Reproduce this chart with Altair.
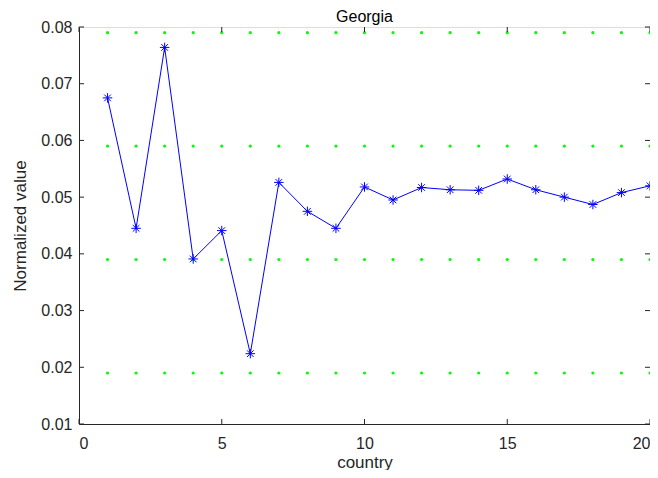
import altair as alt
import pandas as pd

# Data
countries = list(range(1, 21))
values = [0.0675, 0.0445, 0.0764, 0.0391, 0.0441, 0.0224, 0.0526, 0.0475, 0.0445, 0.0518,
          0.0495, 0.0517, 0.0513, 0.0512, 0.0532, 0.0513, 0.0500, 0.0487, 0.0508, 0.0520]
ref_levels = [0.079, 0.059, 0.039, 0.019]
x_ticks = [0, 5, 10, 15, 20]
y_ticks = [0.01, 0.02, 0.03, 0.04, 0.05, 0.06, 0.07, 0.08]

W, H = 571, 397
FONT = "Liberation Sans"
DARK = "#262626"

df = pd.DataFrame({"country": countries, "value": values})
dots = pd.DataFrame([{"country": c, "value": v} for v in ref_levels for c in countries])
xt = pd.DataFrame({"t": x_ticks})
yt = pd.DataFrame({"t": y_ticks})

xscale = alt.Scale(domain=[0, 20], nice=False, zero=False)
yscale = alt.Scale(domain=[0.01, 0.08], nice=False, zero=False)

xaxis = alt.Axis(values=x_ticks, title="country", ticks=False, tickSize=0, labelPadding=11,
                 grid=False, domainColor=DARK, labelColor=DARK, titleColor=DARK,
                 labelFont=FONT, titleFont=FONT, labelFontSize=16, titleFontSize=17,
                 titleFontWeight="normal", titleBaseline="alphabetic", titleY=43)
yaxis = alt.Axis(values=y_ticks, format=".2f", title="Normalized value", ticks=False, tickSize=0,
                 labelPadding=7, grid=False, domainColor=DARK, labelColor=DARK, titleColor=DARK,
                 labelFont=FONT, titleFont=FONT, labelFontSize=16, titleFontSize=17,
                 titleFontWeight="normal", titleBaseline="alphabetic", titleX=-54)

green = alt.Chart(dots).mark_point(filled=True, shape="circle", size=10, color="#00ff00", opacity=1).encode(
    x=alt.X("country:Q", scale=xscale, axis=xaxis),
    y=alt.Y("value:Q", scale=yscale, axis=yaxis),
)

line = alt.Chart(df).mark_line(color="#0000ff", strokeWidth=1).encode(
    x=alt.X("country:Q", scale=xscale, axis=xaxis),
    y=alt.Y("value:Q", scale=yscale, axis=yaxis),
)

asterisk = "M-1,0L1,0M0,-1L0,1M-0.7,-0.7L0.7,0.7M-0.7,0.7L0.7,-0.7"
markers = alt.Chart(df).mark_point(shape=asterisk, filled=False, size=90, color="#0000ff",
                                   strokeWidth=1, opacity=1).encode(
    x=alt.X("country:Q", scale=xscale, axis=xaxis),
    y=alt.Y("value:Q", scale=yscale, axis=yaxis),
)

tick_style = dict(color=DARK, strokeWidth=1)
xb = alt.Chart(xt).mark_rule(**tick_style).encode(
    x=alt.X("t:Q", scale=xscale, axis=xaxis), y=alt.value(H), y2=alt.value(H - 5))
xtp = alt.Chart(xt).mark_rule(**tick_style).encode(
    x=alt.X("t:Q", scale=xscale, axis=xaxis), y=alt.value(0), y2=alt.value(5))
yl = alt.Chart(yt).mark_rule(**tick_style).encode(
    y=alt.Y("t:Q", scale=yscale, axis=yaxis), x=alt.value(0), x2=alt.value(5))
yr = alt.Chart(yt).mark_rule(**tick_style).encode(
    y=alt.Y("t:Q", scale=yscale, axis=yaxis), x=alt.value(W), x2=alt.value(W - 5))

chart = alt.layer(green, line, markers, xb, xtp, yl, yr).properties(
    width=W, height=H,
    title=alt.TitleParams("Georgia", font=FONT, fontSize=16, fontWeight="normal",
                          color="#000000", anchor="middle", offset=7, dy=26, baseline="alphabetic"),
    autosize=alt.AutoSizeParams(type="none"),
    padding={"left": 71, "top": 19, "right": 0, "bottom": 46},
).configure_view(stroke=DARK, strokeWidth=1).configure(background="white")

chart.save("out.html", embed_options={"renderer": "svg", "actions": False})
